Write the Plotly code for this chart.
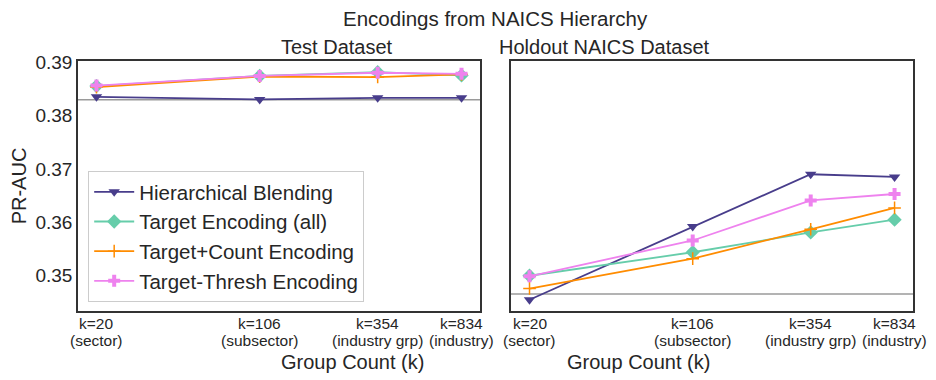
import math
import plotly.graph_objects as go

k_values = [20, 106, 354, 834]
tick_line1 = ["k=20", "k=106", "k=354", "k=834"]
tick_line2 = ["(sector)", "(subsector)", "(industry grp)", "(industry)"]

series_names = ["Hierarchical Blending", "Target Encoding (all)", "Target+Count Encoding", "Target-Thresh Encoding"]
colors = ["#483D8B", "#66CDAA", "#FF8C00", "#EE82EE"]
symbols = ["triangle-down", "diamond", "cross-thin", "cross"]

test_hier = [0.3835, 0.3830, 0.3833, 0.3833]
test_te_all = [0.3855, 0.3874, 0.3881, 0.3875]
test_te_count = [0.3853, 0.3873, 0.3872, 0.3877]
test_te_thresh = [0.3856, 0.3874, 0.3880, 0.3878]

hold_hier = [0.3455, 0.3592, 0.3690, 0.3685]
hold_te_all = [0.3500, 0.3544, 0.3581, 0.3605]
hold_te_count = [0.3476, 0.3532, 0.3587, 0.3627]
hold_te_thresh = [0.3499, 0.3566, 0.3641, 0.3653]

baseline_test = 0.38296
baseline_holdout = 0.3466

FONT = "Liberation Sans, Arial, sans-serif"

fig = go.Figure()

test_series = [test_hier, test_te_all, test_te_count, test_te_thresh]
hold_series = [hold_hier, hold_te_all, hold_te_count, hold_te_thresh]

# baselines
fig.add_trace(go.Scatter(x=[10, 2000], y=[baseline_test] * 2, mode="lines",
                         line=dict(color="#9a9a9a", width=1.5), showlegend=False,
                         xaxis="x", yaxis="y", hoverinfo="skip"))
fig.add_trace(go.Scatter(x=[10, 2000], y=[baseline_holdout] * 2, mode="lines",
                         line=dict(color="#9a9a9a", width=1.5), showlegend=False,
                         xaxis="x2", yaxis="y2", hoverinfo="skip"))

def marker_for(i):
    if symbols[i] == "cross-thin":
        return dict(symbol="cross-thin", size=9, line=dict(color=colors[i], width=1.5), color=colors[i])
    if symbols[i] == "cross":
        return dict(symbol="cross", size=10, color=colors[i], line=dict(width=0))
    if symbols[i] == "diamond":
        return dict(symbol="diamond", size=11, color=colors[i], line=dict(width=0))
    return dict(symbol=symbols[i], size=10, color=colors[i], line=dict(width=0))

for i, name in enumerate(series_names):
    fig.add_trace(go.Scatter(x=k_values, y=test_series[i], mode="lines+markers", name=name,
                             line=dict(color=colors[i], width=1.8), marker=marker_for(i),
                             xaxis="x", yaxis="y", legendgroup=name))
for i, name in enumerate(series_names):
    fig.add_trace(go.Scatter(x=k_values, y=hold_series[i], mode="lines+markers", name=name,
                             line=dict(color=colors[i], width=1.8), marker=marker_for(i),
                             xaxis="x2", yaxis="y2", legendgroup=name, showlegend=False))

xrange = [1.219, 3.003]
yrange = [0.3434, 0.3902]
frame = dict(showline=True, linecolor="#333333", linewidth=1.5, mirror=True,
             showgrid=False, zeroline=False, ticks="", automargin=False)

annotations = [
    dict(text="Encodings from NAICS Hierarchy", x=0.5, xref="paper", y=1, yref="paper",
         yanchor="middle", yshift=43, showarrow=False, font=dict(size=20.5)),
    dict(text="Test Dataset", x=0.2407, xref="paper", y=1, yref="paper", yanchor="middle", yshift=14,
         showarrow=False, font=dict(size=20)),
    dict(text="Holdout NAICS Dataset", x=0.7593, xref="paper", y=1, yref="paper", yanchor="middle", yshift=14,
         showarrow=False, font=dict(size=20)),
    dict(text="Group Count (k)", x=0.2407, xref="paper", y=0, yref="paper", yanchor="middle", yshift=-51,
         showarrow=False, font=dict(size=20)),
    dict(text="Group Count (k)", x=0.7593, xref="paper", y=0, yref="paper", yanchor="middle", yshift=-51,
         showarrow=False, font=dict(size=20)),
]
# two-line tick labels placed through each x axis' own scale
for xref, domx in (("x", "x domain"), ("x2", "x2 domain")):
    for k, l1, l2 in zip(k_values, tick_line1, tick_line2):
        for txt, shift in ((l1, -12), (l2, -29)):
            annotations.append(dict(text=txt, x=math.log10(k), xref=xref, y=0, yref=xref.replace("x", "y") + " domain",
                                    yanchor="middle", yshift=shift, showarrow=False,
                                    font=dict(size=15.5, color="#262626")))

# the page body has an 8px default margin, so the figure is 8px smaller
fig.update_layout(
    width=928, height=372,
    margin=dict(l=70, r=23, t=53, b=69),
    paper_bgcolor="white", plot_bgcolor="white",
    font=dict(family=FONT, color="#262626"),
    xaxis=dict(domain=[0, 0.4814], type="log", range=xrange, tickvals=k_values, showticklabels=False, **frame),
    yaxis=dict(domain=[0, 1], range=yrange, tickvals=[0.35, 0.36, 0.37, 0.38, 0.39],
               ticktext=["0.35", "0.36", "0.37", "0.38", "0.39"], tickfont=dict(size=19),
               title=dict(text="PR-AUC", font=dict(size=20), standoff=4), **frame),
    xaxis2=dict(domain=[0.5186, 1], type="log", range=xrange, tickvals=k_values, showticklabels=False,
                anchor="y2", **frame),
    yaxis2=dict(domain=[0, 1], range=yrange, showticklabels=False, anchor="x2", matches="y", **frame),
    legend=dict(x=0.0122, y=0.036, xanchor="left", yanchor="bottom", xref="paper", yref="paper",
                bgcolor="white", bordercolor="#cccccc", borderwidth=1,
                font=dict(size=20.5), tracegroupgap=0, itemwidth=40),
    annotations=annotations,
)

fig.write_html("out.html")
